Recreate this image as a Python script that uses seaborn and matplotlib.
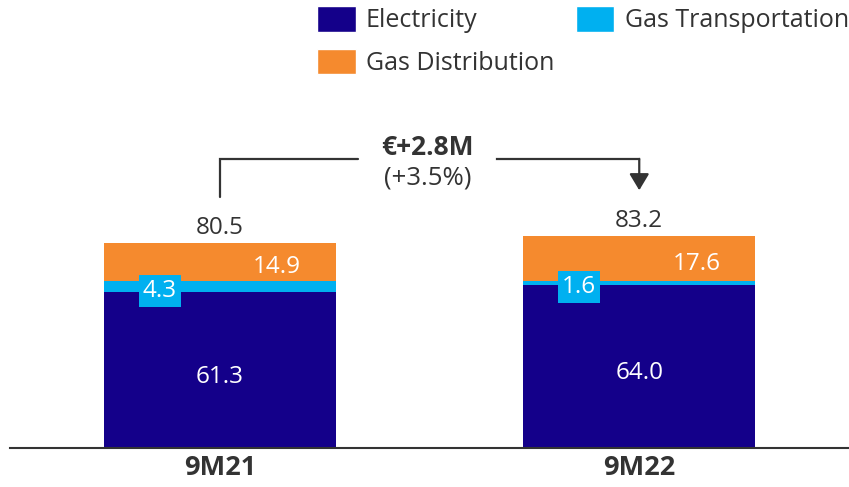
import matplotlib
matplotlib.use("Agg")
import matplotlib.pyplot as plt
import seaborn as sns
import pandas as pd
from matplotlib.patches import Patch

# values (EUR M)
periods = ["9M21", "9M22"]
electricity = [61.3, 64.0]
gas_transport = [4.3, 1.6]
gas_distribution = [14.9, 17.6]
totals = [80.5, 83.2]
delta_label = "€+2.8M"
delta_pct = "(+3.5%)"
series_names = ["Electricity", "Gas Distribution", "Gas Transportation"]

C_ELEC = "#14008A"
C_TRANS = "#00B0F0"
C_DIST = "#F58A2E"
TXT = "#333333"

sns.set_theme(style="white")
plt.rcParams["font.family"] = ["Open Sans", "DejaVu Sans"]

df = pd.DataFrame({
    "period": periods,
    "elec": electricity,
    "trans": gas_transport,
    "dist": gas_distribution,
})
df["lvl1"] = df["elec"]
df["lvl2"] = df["elec"] + df["trans"]
df["lvl3"] = df["lvl2"] + df["dist"]

fig = plt.figure(figsize=(8.49, 4.87), dpi=100)
ax = fig.add_axes([10 / 849, 39 / 487, 839 / 849, 448 / 487])

# stacked look: draw cumulative levels from top down
for col, c in [("lvl3", C_DIST), ("lvl2", C_TRANS), ("lvl1", C_ELEC)]:
    sns.barplot(data=df, x="period", y=col, color=c, width=0.554,
                saturation=1, errorbar=None, linewidth=0, ax=ax)

FS = 17.5
for i, row in df.iterrows():
    ax.text(i, row.elec / 2 - 1.5, f"{row.elec:.1f}", ha="center",
            va="center_baseline", color="white", fontsize=FS)
    ax.text(i - 0.143, row.elec + row.trans / 2 - 0.5, f"{row.trans:.1f}",
            ha="center", va="center_baseline", color="white", fontsize=FS,
            bbox=dict(boxstyle="square,pad=0.17", fc=C_TRANS, ec="none"))
    ax.text(i + 0.137, row.lvl2 + row.dist / 2 - 1, f"{row.dist:.1f}",
            ha="center", va="center_baseline", color="white", fontsize=FS)
    ax.text(i, totals[i] + 7, f"{totals[i]:.1f}", ha="center",
            va="center_baseline", color=TXT, fontsize=FS)

# change bracket
lvl = 113.5
y0 = totals[0] + 18
y1 = totals[1] + 18
xm = 0.495
gap = 0.166
ax.plot([0, 0, xm - gap], [y0, lvl, lvl], color=TXT, lw=1.6,
        solid_joinstyle="miter")
ax.plot([xm + gap, 1], [lvl, lvl], color=TXT, lw=1.6,
        solid_capstyle="projecting")
ax.annotate("", xy=(1, y1), xytext=(1, lvl),
            arrowprops=dict(arrowstyle="-|>,head_length=0.5,head_width=0.3",
                            color=TXT, lw=1.6, mutation_scale=20,
                            shrinkA=0, shrinkB=0))
ax.text(xm, 119, delta_label, ha="center", va="center_baseline", color=TXT,
        fontsize=19, fontweight="bold")
ax.text(xm, 107, delta_pct, ha="center", va="center_baseline", color=TXT,
        fontsize=18.5)

handles = [Patch(fc=C_ELEC), Patch(fc=C_DIST), Patch(fc=C_TRANS)]
fig.legend(handles, series_names, loc="upper left",
           bbox_to_anchor=(317 / 849, 1 - 6 / 487), ncol=2, frameon=False,
           fontsize=18, handlelength=1.54, handleheight=1.2,
           handletextpad=0.42, columnspacing=0.85, labelspacing=0.62,
           borderpad=0, borderaxespad=0, labelcolor=TXT)

ax.set_xlim(-0.5, 1.5)
ax.set_ylim(0, 175.9)
ax.set_yticks([])
ax.set_xlabel("")
ax.set_ylabel("")
sns.despine(ax=ax, left=True)
ax.spines["bottom"].set_color(TXT)
ax.spines["bottom"].set_linewidth(1.5)
ax.tick_params(axis="x", length=0, pad=5, labelsize=19.5, labelcolor=TXT)
for t in ax.get_xticklabels():
    t.set_fontweight("bold")

fig.savefig("out.png", dpi=100)
